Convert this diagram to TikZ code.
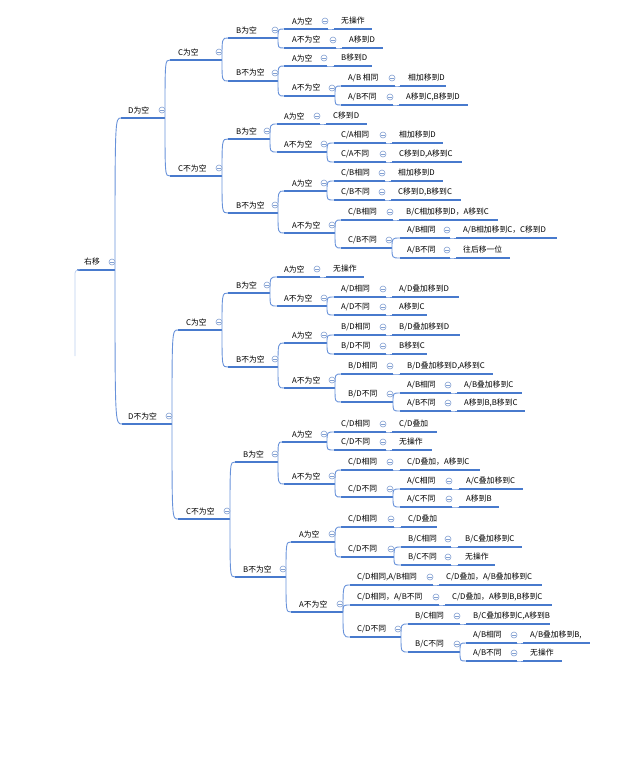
\documentclass[tikz,border=0pt]{standalone}
\usepackage{fontspec}
\newfontfamily\cjkf{Noto Sans CJK SC}
\definecolor{lineblue}{RGB}{72,122,205}
\definecolor{connblue}{RGB}{104,146,218}
\definecolor{togblue}{RGB}{130,160,210}
% name, text x, underline y, underline start x, underline end x, text
\newcommand\mmnode[6]{%
  \coordinate (#1-s) at (#4,#3);
  \coordinate (#1-e) at (#5,#3);
  \node[lbl] (#1) at (#2,#3-8) {#6};
  \draw[uline] (#1-s) -- (#1-e);
}
\newcommand\mmtog[1]{%
  \node[togc] (#1-t) at ([shift={(-3,-8)}]#1-e) {};
  \draw[togm] ([xshift=-1.7pt]#1-t.center) -- ([xshift=1.7pt]#1-t.center);
}
\newcommand\mmlink[2]{\draw[conn] (#1-e) .. controls (#1-e |- #2-s) .. (#2-s);}
\begin{document}
\begin{tikzpicture}[x=1pt,y=-1pt,
  lbl/.style={anchor=west,inner sep=0pt,font=\cjkf\fontsize{7.8}{9}\selectfont,text=black},
  uline/.style={draw=lineblue,line width=1.2pt},
  conn/.style={draw=connblue,line width=0.9pt},
  togc/.style={circle,draw=togblue,line width=0.6pt,minimum size=6pt,inner sep=0pt,fill=white},
  togm/.style={draw=togblue,line width=0.6pt},
  faint/.style={draw=connblue!45,line width=0.8pt}]
\useasboundingbox (0,0) rectangle (638,764);

% ---- root and level 1
\mmnode{root}{84}{270}{77}{115}{右移}
\coordinate (rootdown) at (75,356);
\draw[faint,rounded corners=3pt] (root-s) -| (rootdown);
\mmnode{Dk}{128}{118}{121}{165}{D为空}
\mmnode{Dn}{128}{424}{122}{172}{D不为空}
\mmlink{root}{Dk}\mmlink{root}{Dn}

% ---- level 2
\mmnode{a}{178}{60}{170}{222}{C为空}
\mmnode{b}{178}{176}{170}{222}{C不为空}
\mmnode{c}{186}{330}{178}{222}{C为空}
\mmnode{d}{186}{519}{178}{230}{C不为空}
\mmlink{Dk}{a}\mmlink{Dk}{b}\mmlink{Dn}{c}\mmlink{Dn}{d}

% ---- level 3
\mmnode{aa}{236}{38}{228}{278}{B为空}
\mmnode{ab}{236}{81}{228}{278}{B不为空}
\mmnode{ba}{236}{139}{228}{270}{B为空}
\mmnode{bb}{236}{213}{228}{278}{B不为空}
\mmnode{ca}{236}{293}{228}{270}{B为空}
\mmnode{cb}{236}{367}{228}{278}{B不为空}
\mmnode{da}{243}{462}{235}{278}{B为空}
\mmnode{db}{243}{577}{235}{286}{B不为空}
\mmlink{a}{aa}\mmlink{a}{ab}\mmlink{b}{ba}\mmlink{b}{bb}
\mmlink{c}{ca}\mmlink{c}{cb}\mmlink{d}{da}\mmlink{d}{db}

% ---- D为空 / C为空 / B为空
\mmnode{aaa}{292}{29}{284}{328}{A为空}
\mmnode{aaaL}{341}{29}{334}{372}{无操作}
\mmnode{aab}{292}{48}{284}{336}{A不为空}
\mmnode{aabL}{349}{48}{342}{383}{A移到D}
\mmlink{aa}{aaa}\mmlink{aa}{aab}\mmlink{aaa}{aaaL}\mmlink{aab}{aabL}

% ---- D为空 / C为空 / B不为空
\mmnode{aba}{292}{66}{284}{327}{A为空}
\mmnode{abaL}{341}{66}{334}{372}{B移到D}
\mmnode{abb}{292}{96}{284}{335}{A不为空}
\mmnode{abb1}{348}{86}{341}{395}{A/B 相同}
\mmnode{abb1L}{408}{86}{400}{446}{相加移到D}
\mmnode{abb2}{348}{105}{341}{393}{A/B不同}
\mmnode{abb2L}{406}{105}{399}{468}{A移到C,B移到D}
\mmlink{ab}{aba}\mmlink{ab}{abb}\mmlink{aba}{abaL}
\mmlink{abb}{abb1}\mmlink{abb}{abb2}\mmlink{abb1}{abb1L}\mmlink{abb2}{abb2L}

% ---- D为空 / C不为空 / B为空
\mmnode{baa}{284}{124}{277}{320}{A为空}
\mmnode{baaL}{333}{124}{326}{367}{C移到D}
\mmnode{bab}{284}{152}{277}{327}{A不为空}
\mmnode{bab1}{341}{143}{334}{386}{C/A相同}
\mmnode{bab1L}{399}{143}{392}{443}{相加移到D}
\mmnode{bab2}{341}{162}{334}{386}{C/A不同}
\mmnode{bab2L}{399}{162}{392}{462}{C移到D,A移到C}
\mmlink{ba}{baa}\mmlink{ba}{bab}\mmlink{baa}{baaL}
\mmlink{bab}{bab1}\mmlink{bab}{bab2}\mmlink{bab1}{bab1L}\mmlink{bab2}{bab2L}

% ---- D为空 / C不为空 / B不为空
\mmnode{bba}{292}{191}{284}{327}{A为空}
\mmnode{bba1}{341}{181}{334}{385}{C/B相同}
\mmnode{bba1L}{398}{181}{391}{443}{相加移到D}
\mmnode{bba2}{341}{200}{334}{385}{C/B不同}
\mmnode{bba2L}{398}{200}{391}{461}{C移到D,B移到C}
\mmnode{bbb}{292}{233}{284}{335}{A不为空}
\mmnode{bbb1}{348}{220}{341}{393}{C/B相同}
\mmnode{bbb1L}{406}{220}{399}{498}{B/C相加移到D，A移到C}
\mmnode{bbb2}{348}{248}{341}{392}{C/B不同}
\mmnode{bbb21}{407}{238}{400}{450}{A/B相同}
\mmnode{bbb21L}{463}{238}{456}{557}{A/B相加移到C，C移到D}
\mmnode{bbb22}{407}{258}{400}{450}{A/B不同}
\mmnode{bbb22L}{463}{258}{456}{510}{往后移一位}
\mmlink{bb}{bba}\mmlink{bb}{bbb}
\mmlink{bba}{bba1}\mmlink{bba}{bba2}\mmlink{bba1}{bba1L}\mmlink{bba2}{bba2L}
\mmlink{bbb}{bbb1}\mmlink{bbb}{bbb2}\mmlink{bbb1}{bbb1L}
\mmlink{bbb2}{bbb21}\mmlink{bbb2}{bbb22}\mmlink{bbb21}{bbb21L}\mmlink{bbb22}{bbb22L}

% ---- D不为空 / C为空 / B为空
\mmnode{caa}{284}{277}{277}{320}{A为空}
\mmnode{caaL}{333}{277}{326}{364}{无操作}
\mmnode{cab}{284}{306}{277}{327}{A不为空}
\mmnode{cab1}{341}{297}{334}{386}{A/D相同}
\mmnode{cab1L}{399}{297}{392}{459}{A/D叠加移到D}
\mmnode{cab2}{341}{315}{334}{386}{A/D不同}
\mmnode{cab2L}{399}{315}{392}{427}{A移到C}
\mmlink{ca}{caa}\mmlink{ca}{cab}\mmlink{caa}{caaL}
\mmlink{cab}{cab1}\mmlink{cab}{cab2}\mmlink{cab1}{cab1L}\mmlink{cab2}{cab2L}

% ---- D不为空 / C为空 / B不为空
\mmnode{cba}{292}{343}{284}{327}{A为空}
\mmnode{cba1}{341}{335}{334}{386}{B/D相同}
\mmnode{cba1L}{399}{335}{392}{460}{B/D叠加移到D}
\mmnode{cba2}{341}{354}{334}{386}{B/D不同}
\mmnode{cba2L}{399}{354}{392}{427}{B移到C}
\mmnode{cbb}{292}{388}{284}{335}{A不为空}
\mmnode{cbb1}{348}{374}{341}{393}{B/D相同}
\mmnode{cbb1L}{407}{374}{400}{493}{B/D叠加移到D,A移到C}
\mmnode{cbb2}{348}{402}{341}{393}{B/D不同}
\mmnode{cbb21}{407}{393}{400}{451}{A/B相同}
\mmnode{cbb21L}{464}{393}{457}{522}{A/B叠加移到C}
\mmnode{cbb22}{407}{411}{400}{451}{A/B不同}
\mmnode{cbb22L}{464}{411}{457}{525}{A移到B,B移到C}
\mmlink{cb}{cba}\mmlink{cb}{cbb}
\mmlink{cba}{cba1}\mmlink{cba}{cba2}\mmlink{cba1}{cba1L}\mmlink{cba2}{cba2L}
\mmlink{cbb}{cbb1}\mmlink{cbb}{cbb2}\mmlink{cbb1}{cbb1L}
\mmlink{cbb2}{cbb21}\mmlink{cbb2}{cbb22}\mmlink{cbb21}{cbb21L}\mmlink{cbb22}{cbb22L}

% ---- D不为空 / C不为空 / B为空
\mmnode{daa}{292}{442}{282}{327}{A为空}
\mmnode{daa1}{341}{432}{334}{386}{C/D相同}
\mmnode{daa1L}{399}{432}{392}{437}{C/D叠加}
\mmnode{daa2}{341}{450}{334}{386}{C/D不同}
\mmnode{daa2L}{399}{450}{392}{432}{无操作}
\mmnode{dab}{292}{484}{284}{335}{A不为空}
\mmnode{dab1}{348}{470}{341}{393}{C/D相同}
\mmnode{dab1L}{407}{470}{400}{480}{C/D叠加，A移到C}
\mmnode{dab2}{348}{497}{341}{393}{C/D不同}
\mmnode{dab21}{407}{489}{400}{452}{A/C相同}
\mmnode{dab21L}{466}{489}{459}{523}{A/C叠加移到C}
\mmnode{dab22}{407}{507}{400}{452}{A/C不同}
\mmnode{dab22L}{466}{507}{459}{499}{A移到B}
\mmlink{da}{daa}\mmlink{da}{dab}
\mmlink{daa}{daa1}\mmlink{daa}{daa2}\mmlink{daa1}{daa1L}\mmlink{daa2}{daa2L}
\mmlink{dab}{dab1}\mmlink{dab}{dab2}\mmlink{dab1}{dab1L}
\mmlink{dab2}{dab21}\mmlink{dab2}{dab22}\mmlink{dab21}{dab21L}\mmlink{dab22}{dab22L}

% ---- D不为空 / C不为空 / B不为空
\mmnode{dba}{299}{542}{291}{335}{A为空}
\mmnode{dba1}{348}{527}{341}{394}{C/D相同}
\mmnode{dba1L}{408}{527}{401}{437}{C/D叠加}
\mmnode{dba2}{348}{557}{341}{394}{C/D不同}
\mmnode{dba21}{408}{547}{401}{451}{B/C相同}
\mmnode{dba21L}{465}{547}{458}{522}{B/C叠加移到C}
\mmnode{dba22}{408}{565}{401}{451}{B/C不同}
\mmnode{dba22L}{465}{565}{458}{495}{无操作}
\mmnode{dbb}{299}{612}{291}{343}{A不为空}
\mmnode{dbb1}{357}{585}{350}{433}{C/D相同,A/B相同}
\mmnode{dbb1L}{446}{585}{439}{542}{C/D叠加，A/B叠加移到C}
\mmnode{dbb2}{357}{605}{350}{439}{C/D相同，A/B不同}
\mmnode{dbb2L}{452}{605}{445}{552}{C/D叠加，A移到B,B移到C}
\mmnode{dbb3}{357}{637}{350}{401}{C/D不同}
\mmnode{dbb31}{415}{624}{408}{460}{B/C相同}
\mmnode{dbb31L}{473}{624}{466}{550}{B/C叠加移到C,A移到B}
\mmnode{dbb32}{415}{652}{408}{460}{B/C不同}
\mmnode{dbb321}{473}{643}{466}{517}{A/B相同}
\mmnode{dbb321L}{530}{643}{523}{590}{A/B叠加移到B,}
\mmnode{dbb322}{473}{661}{466}{517}{A/B不同}
\mmnode{dbb322L}{530}{661}{523}{562}{无操作}
\mmlink{db}{dba}\mmlink{db}{dbb}
\mmlink{dba}{dba1}\mmlink{dba}{dba2}\mmlink{dba1}{dba1L}
\mmlink{dba2}{dba21}\mmlink{dba2}{dba22}\mmlink{dba21}{dba21L}\mmlink{dba22}{dba22L}
\mmlink{dbb}{dbb1}\mmlink{dbb}{dbb2}\mmlink{dbb}{dbb3}\mmlink{dbb1}{dbb1L}\mmlink{dbb2}{dbb2L}
\mmlink{dbb3}{dbb31}\mmlink{dbb3}{dbb32}\mmlink{dbb31}{dbb31L}
\mmlink{dbb32}{dbb321}\mmlink{dbb32}{dbb322}\mmlink{dbb321}{dbb321L}\mmlink{dbb322}{dbb322L}

% ---- collapse toggles on every branch node
\foreach \n in {root,Dk,Dn,a,b,c,d,aa,ab,ba,bb,ca,cb,da,db,
  aaa,aab,aba,abb,abb1,abb2,baa,bab,bab1,bab2,
  bba,bba1,bba2,bbb,bbb1,bbb2,bbb21,bbb22,
  caa,cab,cab1,cab2,cba,cba1,cba2,cbb,cbb1,cbb2,cbb21,cbb22,
  daa,daa1,daa2,dab,dab1,dab2,dab21,dab22,
  dba,dba1,dba2,dba21,dba22,dbb,dbb1,dbb2,dbb3,dbb31,dbb32,dbb321,dbb322}{\mmtog{\n}}
\end{tikzpicture}
\end{document}
